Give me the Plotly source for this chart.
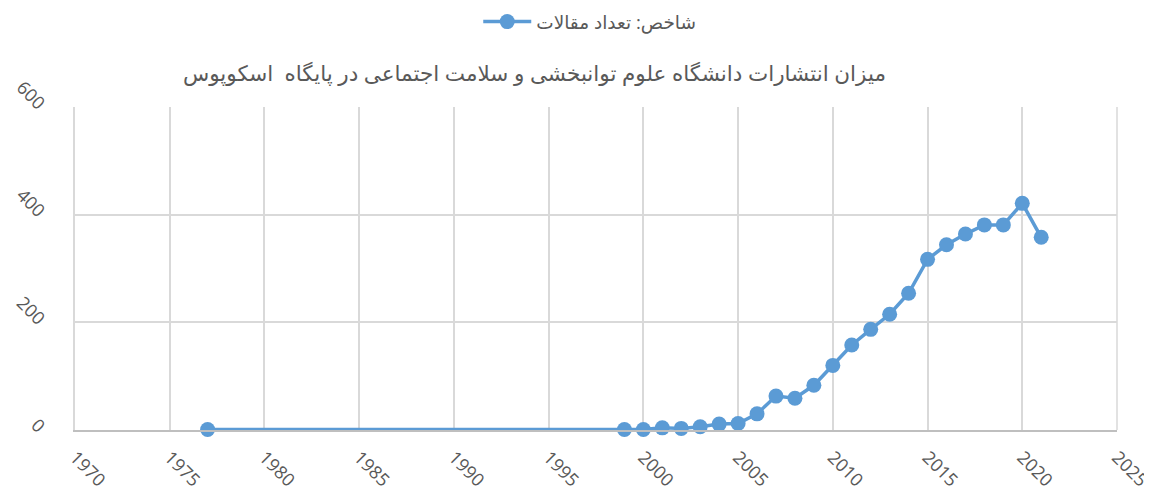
import plotly.graph_objects as go

# === DONNEES ===
years = [1977, 1999, 2000, 2001, 2002, 2003, 2004, 2005, 2006, 2007, 2008, 2009,
         2010, 2011, 2012, 2013, 2014, 2015, 2016, 2017, 2018, 2019, 2020, 2021]
articles = [1, 1, 1, 4, 3, 6, 11, 12, 30, 63, 59, 83,
            120, 158, 187, 215, 254, 317, 344, 364, 381, 381, 421, 358]

series_name = "شاخص: تعداد مقالات"
chart_title = "میزان انتشارات دانشگاه علوم توانبخشی و سلامت اجتماعی در پایگاه  اسکوپوس"

x_ticks = list(range(1970, 2026, 5))
y_ticks = [0, 200, 400, 600]

blue = "#5B9BD5"
grey_text = "#595959"
grid = "#D9D9D9"
font_family = "Open Sans, DejaVu Sans, sans-serif"

# === FIGURE ===
fig = go.Figure()
fig.add_trace(go.Scatter(
    x=years, y=articles, mode="lines+markers", name=series_name,
    line=dict(color=blue, width=3.5),
    marker=dict(color=blue, size=15),
    cliponaxis=False,
))

# la page est décalée de 8px (marge du body) -> figure 1144x484
fig.update_layout(
    width=1144, height=484,
    margin=dict(l=67, r=35, t=99, b=62, autoexpand=False),
    paper_bgcolor="white", plot_bgcolor="white",
    font=dict(family=font_family, color=grey_text, size=16),
    showlegend=True,
    legend=dict(orientation="h", x=0.494, xanchor="center", y=1.263, yanchor="middle",
                font=dict(size=18.5, color=grey_text), itemwidth=48),
    annotations=[dict(text=chart_title, xref="paper", yref="paper", x=0.441, y=1.108,
                      xanchor="center", yanchor="middle", showarrow=False,
                      font=dict(size=21.5, color=grey_text))],
)
fig.update_xaxes(
    range=[1970, 2025], tickvals=x_ticks, ticktext=[str(t) for t in x_ticks],
    tickangle=45, showgrid=True, gridcolor=grid, gridwidth=1.5,
    showline=True, linecolor="#BFBFBF", linewidth=1.5, zeroline=False,
    ticks="", tickfont=dict(size=18, color=grey_text), automargin=False,
    ticklabelstandoff=8, ticklabeloverflow="allow",
)
fig.update_yaxes(
    range=[0, 600], tickvals=y_ticks, tickangle=45,
    showgrid=True, gridcolor=grid, gridwidth=1.5,
    showline=True, linecolor="#D9D9D9", linewidth=1.5, zeroline=False,
    ticks="", tickfont=dict(size=18, color=grey_text), automargin=False,
    ticklabelstandoff=26, ticklabeloverflow="allow",
)
# bord droit du cadre comme dans la référence
fig.add_shape(type="line", xref="paper", yref="paper", x0=1, x1=1, y0=0, y1=1,
              line=dict(color=grid, width=1.5), layer="below")

fig.write_html("out.html")
